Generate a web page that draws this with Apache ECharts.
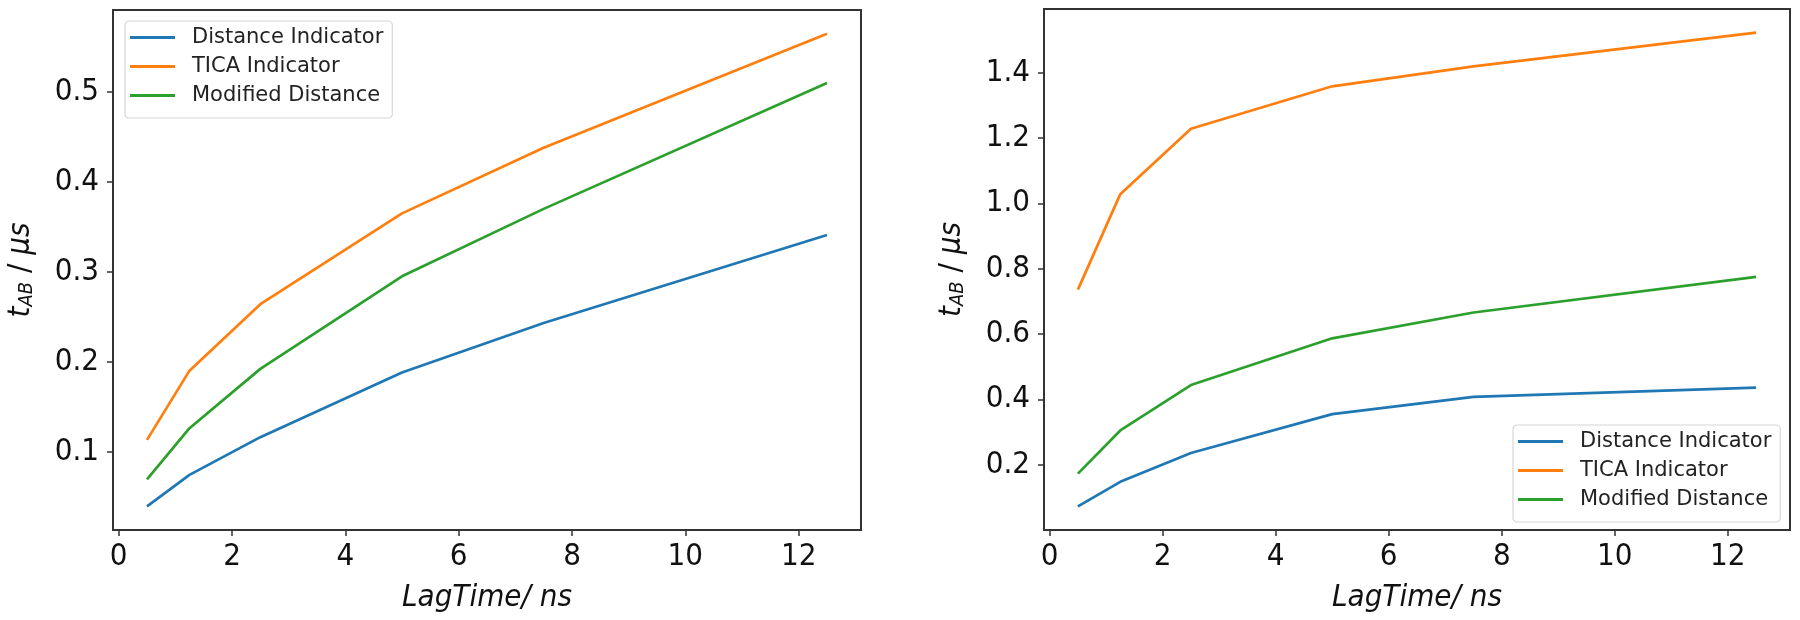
<!DOCTYPE html>
<html>
<head>
<meta charset="utf-8">
<script src="https://cdn.jsdelivr.net/npm/echarts@6/dist/echarts.min.js"></script>
<style>
  html, body { margin: 0; padding: 0; background: #fff; }
  #chart { width: 1800px; height: 620px; }
</style>
</head>
<body>
<div id="chart"></div>
<script>
// lag times (ns)
const lagTimes = [0.5, 1.25, 2.5, 5, 7.5, 12.5]
const seriesNames = ['Distance Indicator', 'TICA Indicator', 'Modified Distance']

// left panel, t_AB in µs
const leftDistance = [0.039, 0.074, 0.116, 0.188, 0.243, 0.341]
const leftTica = [0.113, 0.190, 0.264, 0.365, 0.438, 0.565]
const leftModified = [0.069, 0.126, 0.192, 0.295, 0.370, 0.510]

// right panel
const rightDistance = [0.073, 0.148, 0.236, 0.355, 0.408, 0.436]
const rightTica = [0.736, 1.028, 1.228, 1.358, 1.419, 1.522]
const rightModified = [0.173, 0.305, 0.444, 0.587, 0.666, 0.775]

const xTicks = [0, 2, 4, 6, 8, 10, 12]
const leftYTicks = [0.1, 0.2, 0.3, 0.4, 0.5]
const rightYTicks = [0.2, 0.4, 0.6, 0.8, 1.0, 1.2, 1.4]

const colors = ['#1f77b4', '#ff7f0e', '#2ca02c']
const font = 'DejaVu Sans'
const tickFont = '"DejaVu Sans Condensed", "DejaVu Sans"'
const spine = '#333'

// matplotlib-like 5% autoscale margin
const padRange = (arrs) => {
  const all = [].concat(...arrs)
  const lo = Math.min(...all), hi = Math.max(...all)
  const m = (hi - lo) * 0.05
  return [lo - m, hi + m]
}
const xr = padRange([lagTimes])
const ly = padRange([leftDistance, leftTica, leftModified])
const ry = padRange([rightDistance, rightTica, rightModified])

const pairs = (ys) => ys.map((y, i) => [lagTimes[i], y])

const xAxisCfg = (gridIndex) => ({
  type: 'value',
  gridIndex,
  min: xr[0],
  max: xr[1],
  name: 'LagTime/ ns',
  nameLocation: 'middle',
  nameGap: 52,
  nameTextStyle: { fontFamily: tickFont, fontSize: 31, fontStyle: 'italic', color: '#111' },
  axisLine: { show: true, onZero: false, lineStyle: { color: spine, width: 2 } },
  axisTick: { show: true, length: 6, customValues: xTicks, lineStyle: { color: spine, width: 1.5 } },
  axisLabel: { customValues: xTicks, fontFamily: tickFont, fontSize: 31, color: '#111', margin: 11 },
  splitLine: { show: false },
})

const yAxisCfg = (gridIndex, range, ticks) => ({
  type: 'value',
  gridIndex,
  min: range[0],
  max: range[1],
  name: '{it|t}{sub|AB}{n| / }{it|μs}',
  nameLocation: 'middle',
  nameGap: 76,
  nameTextStyle: {
    color: '#111',
    rich: {
      it: { fontFamily: tickFont, fontSize: 31, fontStyle: 'italic', color: '#111' },
      sub: { fontFamily: tickFont, fontSize: 20, fontStyle: 'italic', color: '#111', padding: [13, 0, 0, 0] },
      n: { fontFamily: tickFont, fontSize: 31, color: '#111' },
    },
  },
  axisLine: { show: true, onZero: false, lineStyle: { color: spine, width: 2 } },
  axisTick: { show: true, length: 6, customValues: ticks, lineStyle: { color: spine, width: 1.5 } },
  axisLabel: {
    customValues: ticks,
    fontFamily: tickFont, fontSize: 31, color: '#111', margin: 14,
    formatter: (v) => v.toFixed(1),
  },
  splitLine: { show: false },
})

const legendCfg = (pos) => Object.assign({
  orient: 'vertical',
  data: seriesNames,
  icon: 'rect',
  itemWidth: 45,
  itemHeight: 3,
  itemGap: 8,
  itemStyle: { borderWidth: 0 },
  textStyle: { fontFamily: font, fontSize: 21, color: '#222', padding: [0, 0, 0, 12] },
  padding: [6, 9, 12, 5],
  backgroundColor: 'rgba(255,255,255,0.85)',
  borderColor: '#d6d6d6',
  borderWidth: 1.2,
  borderRadius: 4,
  selectedMode: false,
}, pos)

const lineSeries = (name, data, idx, axis) => ({
  name,
  type: 'line',
  xAxisIndex: axis,
  yAxisIndex: axis,
  data: pairs(data),
  showSymbol: false,
  symbol: 'none',
  lineStyle: { width: 2.7, color: colors[idx] },
  itemStyle: { color: colors[idx] },
  animation: false,
})

const chart = echarts.init(document.getElementById('chart'))
chart.setOption({
  animation: false,
  backgroundColor: '#fff',
  grid: [
    { left: 113, top: 10, width: 748, height: 520, show: true, borderColor: spine, borderWidth: 2 },
    { left: 1044, top: 9, width: 746, height: 521, show: true, borderColor: spine, borderWidth: 2 },
  ],
  xAxis: [xAxisCfg(0), xAxisCfg(1)],
  yAxis: [yAxisCfg(0, ly, leftYTicks), yAxisCfg(1, ry, rightYTicks)],
  legend: [
    legendCfg({ left: 125, top: 21 }),
    legendCfg({ left: 1513, top: 425 }),
  ],
  series: [
    lineSeries(seriesNames[0], leftDistance, 0, 0),
    lineSeries(seriesNames[1], leftTica, 1, 0),
    lineSeries(seriesNames[2], leftModified, 2, 0),
    lineSeries(seriesNames[0], rightDistance, 0, 1),
    lineSeries(seriesNames[1], rightTica, 1, 1),
    lineSeries(seriesNames[2], rightModified, 2, 1),
  ],
})
</script>
</body>
</html>
